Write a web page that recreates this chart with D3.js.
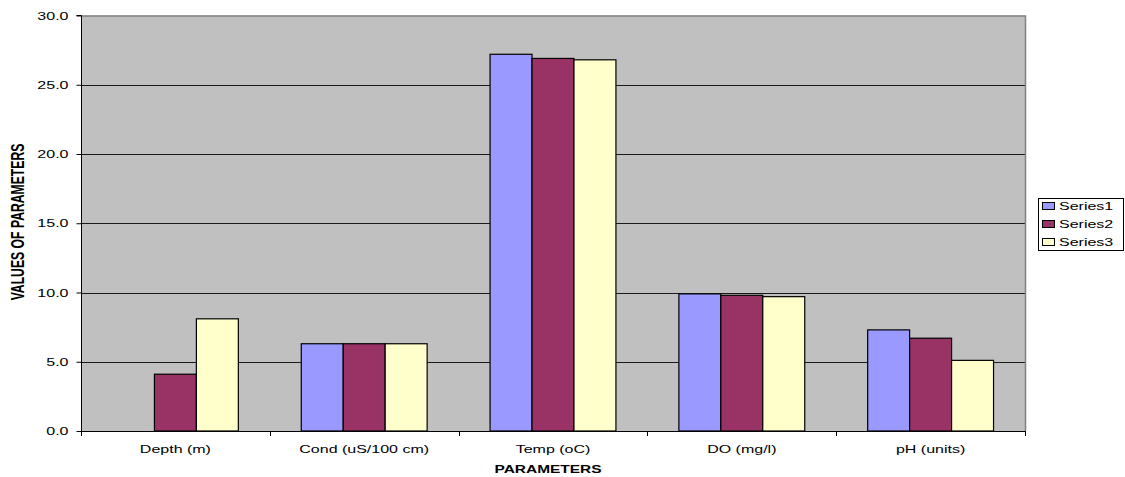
<!DOCTYPE html>
<html>
<head>
<meta charset="utf-8">
<script src="https://cdn.jsdelivr.net/npm/d3@7"></script>
<style>
  html, body { margin: 0; padding: 0; background: #fff; }
  svg { display: block; }
  text { font-family: "Liberation Sans", Arial, sans-serif; fill: #000; }
</style>
</head>
<body>
<svg id="chart" width="1125" height="477"></svg>
<script>
// Water-quality parameters, three sampling series
const categories = ["Depth (m)", "Cond (uS/100 cm)", "Temp (oC)", "DO (mg/l)", "pH (units)"];
const seriesNames = ["Series1", "Series2", "Series3"];
const series1 = [0, 6.3, 27.2, 9.9, 7.3];
const series2 = [4.1, 6.3, 26.9, 9.8, 6.7];
const series3 = [8.1, 6.3, 26.8, 9.7, 5.1];
const yTicks = [0, 5, 10, 15, 20, 25, 30];
const seriesColors = ["#9999FF", "#993366", "#FFFFCC"];

const svg = d3.select("#chart");
const plot = { left: 81, right: 1025, top: 15.5, bottom: 431 };
const stretch = 1.5; // horizontal text scaling

const x = d3.scaleBand().domain(categories).range([plot.left, plot.right]).paddingInner(0).paddingOuter(0);
const y = d3.scaleLinear().domain([0, 30]).range([plot.bottom, plot.top]);

// Excel-like gap width 150%: 3 bars + 1.5 bar gap per category
const barW = x.bandwidth() / 4.5;
const xs = d3.scaleBand().domain(seriesNames).range([barW * 0.75, barW * 3.75]);

// plot area background
svg.append("rect")
  .attr("x", plot.left).attr("y", plot.top)
  .attr("width", plot.right - plot.left).attr("height", plot.bottom - plot.top)
  .attr("fill", "#C0C0C0");

// horizontal gridlines
svg.append("g").selectAll("line").data(yTicks.filter(t => t > 0 && t < 30)).join("line")
  .attr("x1", plot.left).attr("x2", plot.right)
  .attr("y1", d => Math.round(y(d)) + 0.5).attr("y2", d => Math.round(y(d)) + 0.5)
  .attr("stroke", "#1a1a1a").attr("stroke-width", 1);

// plot border (top and right)
svg.append("path")
  .attr("d", `M${plot.left},${plot.top + 0.5}H${plot.right + 0.5}V${plot.bottom}`)
  .attr("fill", "none").attr("stroke", "#808080").attr("stroke-width", 1.5);

// bars
const allSeries = [series1, series2, series3];
const rows = [];
categories.forEach((c, i) => {
  allSeries.forEach((s, k) => rows.push({ cat: c, name: seriesNames[k], k, v: s[i] }));
});
svg.append("g").selectAll("rect").data(rows.filter(d => d.v > 0)).join("rect")
  .attr("x", d => x(d.cat) + xs(d.name))
  .attr("y", d => y(d.v))
  .attr("width", xs.bandwidth())
  .attr("height", d => y(0) - y(d.v))
  .attr("fill", d => seriesColors[d.k])
  .attr("stroke", "#000").attr("stroke-width", 1.2);

// y axis
const yAxis = svg.append("g").attr("transform", `translate(${plot.left + 0.5},0)`)
  .call(d3.axisLeft(y).tickValues(yTicks).tickSize(5).tickFormat(d3.format(".1f")));
yAxis.select(".domain").attr("stroke", "#000").attr("d", `M-5,${y(30)}H0V${y(0)}`);
yAxis.selectAll(".tick line").attr("stroke", "#000");
yAxis.selectAll(".tick text").each(function () {
  const t = d3.select(this);
  t.attr("x", null).attr("dy", null).attr("font-size", 10.67).attr("text-anchor", "end")
   .attr("dominant-baseline", "central")
   .attr("transform", `translate(-13,0) scale(${stretch},1)`);
});

// x axis: ticks at category boundaries
const xAxis = svg.append("g");
xAxis.append("line")
  .attr("x1", plot.left).attr("x2", plot.right + 1)
  .attr("y1", plot.bottom + 0.5).attr("y2", plot.bottom + 0.5)
  .attr("stroke", "#000").attr("stroke-width", 1.2);
const bounds = categories.map(c => x(c)).concat([plot.right]);
xAxis.selectAll(".bt").data(bounds).join("line").attr("class", "bt")
  .attr("x1", d => Math.round(d) + 0.5).attr("x2", d => Math.round(d) + 0.5)
  .attr("y1", plot.bottom).attr("y2", plot.bottom + 5)
  .attr("stroke", "#000");
xAxis.selectAll(".cl").data(categories).join("text").attr("class", "cl")
  .attr("transform", d => `translate(${x(d) + x.bandwidth() / 2},453) scale(${stretch},1)`)
  .attr("text-anchor", "middle").attr("font-size", 10.67)
  .text(d => d);

// axis titles
svg.append("text")
  .attr("transform", `translate(548,473) scale(1.45,1)`)
  .attr("text-anchor", "middle").attr("font-size", 10.67).attr("font-weight", "bold")
  .text("PARAMETERS");
svg.append("text")
  .attr("transform", `translate(24,222) scale(${stretch},1) rotate(-90)`)
  .attr("text-anchor", "middle").attr("font-size", 12.2).attr("font-weight", "bold")
  .text("VALUES OF PARAMETERS");

// legend
const lg = svg.append("g");
lg.append("rect").attr("x", 1038.5).attr("y", 198.5).attr("width", 85).attr("height", 52)
  .attr("fill", "#fff").attr("stroke", "#000");
const li = lg.selectAll(".li").data(seriesNames).join("g").attr("class", "li")
  .attr("transform", (d, i) => `translate(0,${206 + i * 18})`);
li.append("rect").attr("x", 1042.5).attr("y", -3.5).attr("width", 12).attr("height", 7)
  .attr("fill", (d, i) => seriesColors[i]).attr("stroke", "#000");
li.append("text")
  .attr("transform", `translate(1059,0) scale(${stretch},1)`)
  .attr("dominant-baseline", "central").attr("font-size", 10.67)
  .text(d => d);
</script>
</body>
</html>
